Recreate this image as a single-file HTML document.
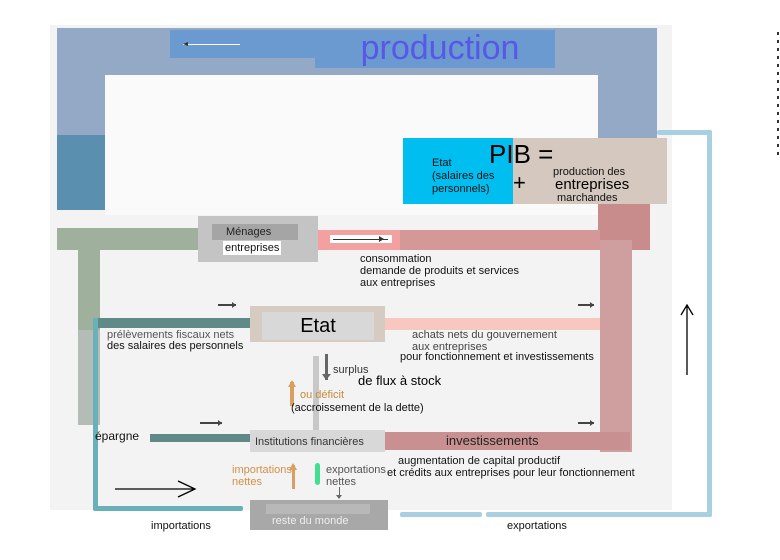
<!DOCTYPE html>
<html><head><meta charset="utf-8"><style>
body{margin:0;width:780px;height:560px;background:#fff;position:relative;overflow:hidden;font-family:"Liberation Sans",sans-serif;}
div{position:absolute;box-sizing:border-box;}
.t{font-size:11px;color:#111;white-space:nowrap;line-height:12px;}
</style></head><body>
<div style="left:50px;top:25px;width:622px;height:485px;background:#f3f3f3"></div>
<div style="left:105px;top:75px;width:493px;height:140px;background:#fafafa"></div>
<!-- top frame -->
<div style="left:57px;top:28px;width:600px;height:47px;background:#93a9c5"></div>
<div style="left:57px;top:28px;width:48px;height:182px;background:#93a9c5"></div>
<div style="left:57px;top:135px;width:48px;height:75px;background:#5b8fb0"></div>
<div style="left:598px;top:28px;width:59px;height:110px;background:#93a9c5"></div>
<div style="left:170px;top:30px;width:145px;height:28px;background:#6a9ad0"></div>
<div style="left:315px;top:30px;width:240px;height:38px;background:#6a9ad0"></div>
<div style="left:183px;top:44px;width:57px;height:1px;background:#fff"></div>
<div style="left:330px;top:28px;width:220px;height:40px;font-size:34px;color:#5858e8;text-align:center;line-height:40px">production</div>
<!-- PIB -->
<div style="left:598px;top:200px;width:52px;height:50px;background:#c98c8c"></div>
<div style="left:403px;top:138px;width:110px;height:66px;background:#00bff0"></div>
<div style="left:513px;top:138px;width:154px;height:66px;background:#d4c8bf"></div>
<div class="t" style="left:432px;top:157px;line-height:13px">Etat<br>(salaires des<br>personnels)</div>
<div style="left:489px;top:138px;font-size:26px;line-height:32px">PIB =</div>
<div style="left:513px;top:170px;font-size:22px;line-height:26px">+</div>
<div class="t" style="left:553px;top:166px">production des</div>
<div style="left:555px;top:177px;font-size:15px;line-height:16px">entreprises</div>
<div class="t" style="left:557px;top:192px">marchandes</div>
<!-- ménages band -->
<div style="left:57px;top:228px;width:143px;height:22px;background:#9fb09d"></div>
<div style="left:78px;top:250px;width:22px;height:80px;background:#9fb09d"></div>
<div style="left:78px;top:330px;width:22px;height:95px;background:#b4bdb5"></div>
<div style="left:318px;top:230px;width:82px;height:20px;background:#f2a0a0"></div>
<div style="left:400px;top:230px;width:200px;height:20px;background:#d49898"></div>
<div style="left:600px;top:240px;width:32px;height:212px;background:#cf9e9e"></div>
<div style="left:330px;top:235px;width:62px;height:8px;background:#fff"></div>
<div style="left:333px;top:239px;width:55px;height:1px;background:#333"></div>
<div style="left:198px;top:216px;width:120px;height:46px;background:#c4c4c4"></div>
<div style="left:212px;top:224px;width:86px;height:16px;background:#a5a5a5"></div>
<div class="t" style="left:226px;top:226px;color:#222">Ménages</div>
<div class="t" style="left:223px;top:241px;background:#fff;padding:1px 2px">entreprises</div>
<div class="t" style="left:360px;top:253px;line-height:12px">consommation<br>demande de produits et services<br>aux entreprises</div>
<!-- Etat -->
<div style="left:95px;top:318px;width:155px;height:10px;background:#5f8a88"></div>
<div style="left:385px;top:318px;width:215px;height:12px;background:#f8c8c0"></div>
<div style="left:93px;top:318px;width:5px;height:192px;background:#6ab0b8"></div>
<div style="left:93px;top:506px;width:150px;height:5px;background:#6ab0b8;border-radius:2px"></div>
<div style="left:250px;top:306px;width:135px;height:36px;background:#d6cbc0"></div>
<div style="left:262px;top:312px;width:112px;height:28px;background:#d8d8d8"></div>
<div style="left:262px;top:313px;width:112px;font-size:20px;text-align:center;line-height:26px">Etat</div>
<div class="t" style="left:107px;top:329px;color:#555">prélèvements fiscaux nets</div>
<div class="t" style="left:107px;top:340px">des salaires des personnels</div>
<div class="t" style="left:412px;top:329px;color:#444;line-height:12px">achats nets du gouvernement<br>aux entreprises</div>
<div class="t" style="left:400px;top:351px">pour fonctionnement et investissements</div>
<div style="left:218px;top:304px;width:18px;height:2px;background:#444"></div>
<div style="left:578px;top:304px;width:16px;height:2px;background:#444"></div>
<div style="left:200px;top:422px;width:22px;height:2px;background:#444"></div>
<div style="left:578px;top:422px;width:16px;height:2px;background:#444"></div>
<!-- surplus -->
<div style="left:313px;top:356px;width:6px;height:74px;background:#c8c8c8"></div>
<div style="left:325px;top:354px;width:3px;height:26px;background:#666"></div>
<div class="t" style="left:333px;top:364px;color:#333">surplus</div>
<div style="left:358px;top:373px;font-size:13px">de flux à stock</div>
<div style="left:290px;top:382px;width:4px;height:24px;background:#d8a060"></div>
<div class="t" style="left:300px;top:389px;color:#c88a3a">ou déficit</div>
<div class="t" style="left:291px;top:402px">(accroissement de la dette)</div>
<!-- institutions -->
<div style="left:150px;top:434px;width:100px;height:8px;background:#5f8a88"></div>
<div class="t" style="left:95px;top:430px;font-size:12px">épargne</div>
<div style="left:385px;top:432px;width:245px;height:18px;background:#c89090"></div>
<div style="left:250px;top:430px;width:135px;height:22px;background:#d8d8d8"></div>
<div class="t" style="left:255px;top:436px;color:#333">Institutions financières</div>
<div style="left:446px;top:433px;font-size:13px;color:#222">investissements</div>
<div class="t" style="left:398px;top:455px">augmentation de capital productif</div>
<div class="t" style="left:387px;top:467px">et crédits aux entreprises pour leur fonctionnement</div>
<div style="left:292px;top:465px;width:3px;height:24px;background:#d8a060"></div>
<div class="t" style="left:232px;top:464px;color:#d49048;line-height:12px">importations<br>nettes</div>
<div style="left:315px;top:463px;width:5px;height:22px;background:#40e090;border-radius:3px"></div>
<div class="t" style="left:326px;top:464px;color:#555;line-height:12px">exportations<br>nettes</div>
<div style="left:339px;top:487px;width:1px;height:10px;background:#666"></div>
<div style="left:250px;top:500px;width:138px;height:30px;background:#a8a8a8"></div>
<div style="left:266px;top:504px;width:104px;height:10px;background:#b8b8b8"></div>
<div class="t" style="left:272px;top:515px;color:#eee">reste du monde</div>
<div class="t" style="left:151px;top:520px">importations</div>
<div class="t" style="left:507px;top:520px">exportations</div>
<!-- light blue loop -->
<div style="left:400px;top:512px;width:82px;height:5px;background:#a8d0e0;border-radius:2px"></div>
<div style="left:486px;top:512px;width:226px;height:5px;background:#a8d0e0;border-radius:2px"></div>
<div style="left:707px;top:130px;width:5px;height:386px;background:#a8d0e0;border-radius:2px"></div>
<div style="left:657px;top:130px;width:55px;height:5px;background:#a8d0e0;border-radius:2px"></div>
<svg style="position:absolute;left:0;top:0" width="780" height="560">
<path d="M687 375 V305 M681 315 L687 305 L693 315" stroke="#000" stroke-width="1.3" fill="none"/>
<path d="M115 489 H195 M178 481 L195 489 L178 497" stroke="#000" stroke-width="1.3" fill="none"/>
<path d="M183 44 l5 -2 v4z" fill="#333"/>
<path d="M384 239 l-5 -3 v6z" fill="#333"/>
<path d="M326 380 l-4 -6 h9z" fill="#666"/>
<path d="M292 380 l-4 7 h8z" fill="#d8a060"/>
<path d="M293 463 l-4 7 h8z" fill="#d8a060"/>
<path d="M339 499 l-3 -4 h6z" fill="#666"/>
<path d="M236 305 l-4 -3 v6z M594 305 l-4 -3 v6z M222 423 l-4 -3 v6z M594 423 l-4 -3 v6z" fill="#444"/>
<line x1="778" y1="32" x2="778" y2="160" stroke="#333" stroke-width="2" stroke-dasharray="3,5"/>
</svg>
</body></html>
